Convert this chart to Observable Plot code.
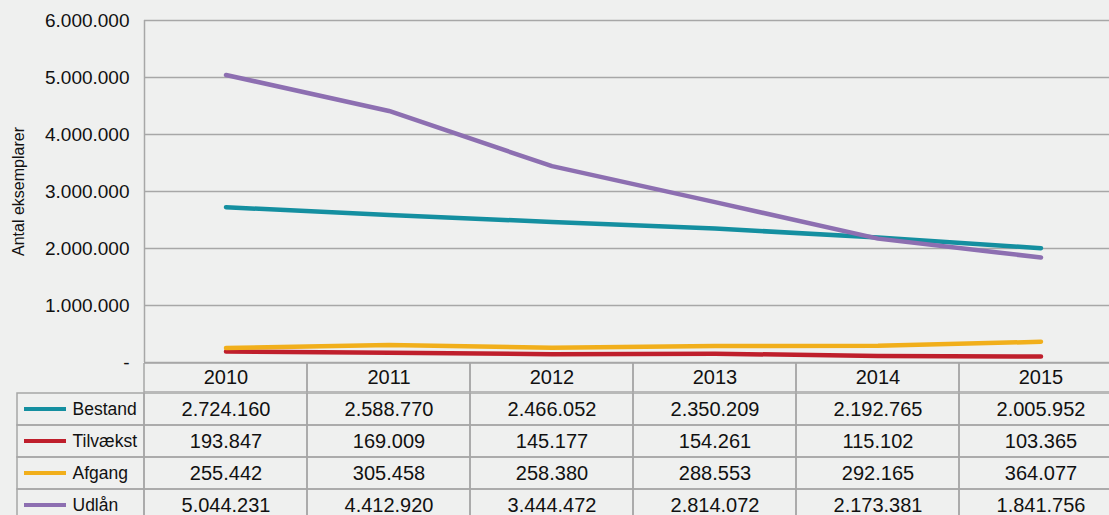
<!DOCTYPE html>
<html>
<head>
<meta charset="utf-8">
<script src="https://cdn.jsdelivr.net/npm/d3@7"></script>
<script src="https://cdn.jsdelivr.net/npm/@observablehq/plot@0.6"></script>
<style>
  html, body { margin: 0; padding: 0; background: #eff0ef; overflow: hidden; width: 1109px; }
  #chart { width: 1109px; height: 515px; overflow: hidden; }
  #chart svg { display: block; }
</style>
</head>
<body>
<div id="chart"></div>
<script>
const years = [2010, 2011, 2012, 2013, 2014, 2015];
const series = ["Bestand", "Tilvækst", "Afgang", "Udlån"];
const bestand = [2724160, 2588770, 2466052, 2350209, 2192765, 2005952];
const tilvaekst = [193847, 169009, 145177, 154261, 115102, 103365];
const afgang = [255442, 305458, 258380, 288553, 292165, 364077];
const udlaan = [5044231, 4412920, 3444472, 2814072, 2173381, 1841756];
const colors = ["#148fa0", "#bf1f2c", "#f1af1b", "#8d6fb1"];
const yTicks = [0, 1000000, 2000000, 3000000, 4000000, 5000000, 6000000];
const yLabel = "Antal eksemplarer";

const valuesBySeries = [bestand, tilvaekst, afgang, udlaan];
const data = series.flatMap((s, i) => years.map((y, j) => ({series: s, year: y, value: valuesBySeries[i][j]})));

const fmt = d3.formatLocale({thousands: ".", decimal: ",", grouping: [3], currency: ["", ""]}).format(",d");

const grid = "#a7a7a7";
const sans = "'Liberation Sans', Arial, sans-serif";
const W = 1109;
const xDomain = [2009.5, 2015.5];
const xRange = [144, 1122];          // plot area runs past the right edge of the window
const labelColLeft = 17;

const chart = Plot.plot({
  width: W, height: 363,
  marginTop: 20, marginBottom: 1, marginLeft: 144, marginRight: 0,
  style: {background: "transparent", fontFamily: sans, fontSize: "19px", color: "#111", overflow: "visible"},
  x: {type: "linear", domain: xDomain, range: xRange, axis: null},
  y: {domain: [0, 6000000], axis: null},
  color: {domain: series, range: colors},
  marks: [
    Plot.ruleY(yTicks, {stroke: grid, strokeWidth: 1.5}),
    Plot.ruleX([xDomain[0]], {stroke: grid, strokeWidth: 1.5}),
    Plot.axisY({ticks: yTicks, tickFormat: d => d === 0 ? "-" : fmt(d), tickSize: 0, tickPadding: 15, label: null, fontSize: 19}),
    Plot.text([yLabel], {frameAnchor: "left", textAnchor: "middle", rotate: -90, dx: -126, text: d => d, fontSize: 16, fill: "#111"}),
    Plot.line(data, {x: "year", y: "value", z: "series", stroke: "series", strokeWidth: 4.5})
  ]
});

const header = Plot.plot({
  width: W, height: 29,
  marginTop: 0, marginBottom: 0, marginLeft: 144, marginRight: 0,
  style: {background: "transparent", fontFamily: sans, fontSize: "19px", color: "#111", overflow: "hidden"},
  x: {type: "linear", domain: xDomain, range: xRange, axis: null},
  marks: [
    Plot.rect(years, {x1: d => d - 0.5, x2: d => d + 0.5, fill: "none", stroke: grid, strokeWidth: 1.5}),
    Plot.text(years, {x: d => d, text: d => String(d), frameAnchor: "middle", fontSize: 20, fill: "#111"})
  ]
});

const pxPerYear = (xRange[1] - xRange[0]) / (xDomain[1] - xDomain[0]);
const xMinTable = xDomain[0] - (xRange[0] - labelColLeft) / pxPerYear;

const body = Plot.plot({
  width: W, height: 130,
  marginTop: 0, marginBottom: 0, marginLeft: labelColLeft, marginRight: 0,
  style: {background: "transparent", fontFamily: sans, fontSize: "19px", color: "#111", overflow: "hidden"},
  x: {type: "linear", domain: [xMinTable, xDomain[1]], range: [labelColLeft, xRange[1]], axis: null},
  y: {type: "band", domain: series, padding: 0, axis: null},
  color: {domain: series, range: colors},
  marks: [
    Plot.barX(series, {x1: xMinTable, x2: xDomain[0], y: d => d, fill: "none", stroke: grid, strokeWidth: 1.5, inset: 0}),
    Plot.barX(data, {x1: d => d.year - 0.5, x2: d => d.year + 0.5, y: "series", fill: "none", stroke: grid, strokeWidth: 1.5, inset: 0}),
    Plot.barX(series, {x1: xMinTable + 7 / pxPerYear, x2: xMinTable + 49 / pxPerYear, y: d => d, fill: d => d, insetTop: 14, insetBottom: 14}),
    Plot.text(series, {y: d => d, text: d => d, frameAnchor: "left", dx: 55, textAnchor: "start", fontSize: 17.5, fill: "#111"}),
    Plot.text(data, {x: "year", y: "series", text: d => fmt(d.value), fontSize: 20, fill: "#111"})
  ]
});

const root = document.getElementById("chart");
root.append(chart, header, body);
</script>
</body>
</html>
